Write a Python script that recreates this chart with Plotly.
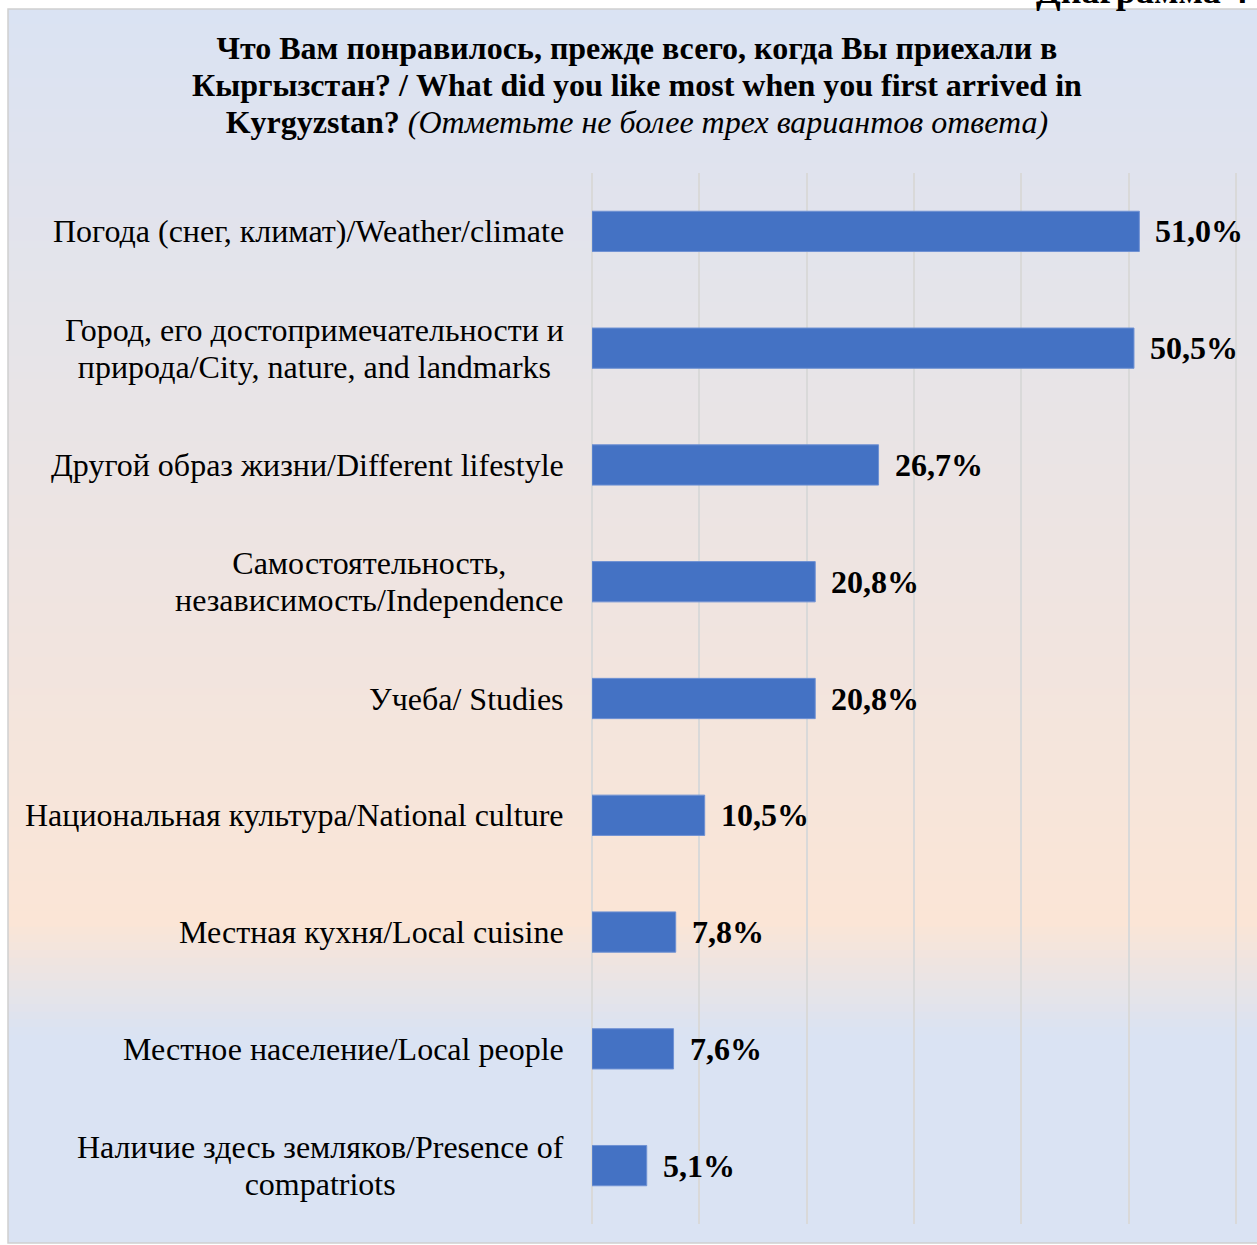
import plotly.graph_objects as go

categories = [
    "Погода (снег, климат)/Weather/climate",
    "Город, его достопримечательности и<br>природа/City, nature, and landmarks",
    "Другой образ жизни/Different lifestyle",
    "Самостоятельность,<br>независимость/Independence",
    "Учеба/ Studies",
    "Национальная культура/National culture",
    "Местная кухня/Local cuisine",
    "Местное население/Local people",
    "Наличие здесь земляков/Presence of<br>compatriots",
]
values = [51.0, 50.5, 26.7, 20.8, 20.8, 10.5, 7.8, 7.6, 5.1]
value_labels = [f"{v:.1f}".replace(".", ",") + "%" for v in values]

title_text = ("<b>Что Вам понравилось, прежде всего, когда Вы приехали в<br>"
              "Кыргызстан? / What did you like most when you first arrived in<br>"
              "Kyrgyzstan?</b> <i>(Отметьте не более трех вариантов ответа)</i>")
corner_text = "Диаграмма 4"

FW, FH = 1257, 1245
L, R, T, B = 592, 1237, 173, 1224
W, H = R - L, B - T
XMAX = 60.1
SERIF = "Times New Roman, Liberation Serif, serif"
BASE = 37 / 1.3          # controls line spacing (37px)
BIG = 32                 # visible glyph size


def sized(txt, size=BIG):
    return f'<span style="font-size:{size}px">{txt}</span>'


def px_x(p):
    return (p - L) / W


def px_y(p):
    return (B - p) / H


def hex2rgb(h):
    h = h.lstrip("#")
    return tuple(int(h[i:i + 2], 16) for i in (0, 2, 4))


stops = [(0.0, "#dae3f3"), (0.74, "#fbe5d6"), (0.83, "#dae3f3"), (1.0, "#dae3f3")]


def grad(t):
    for (a, ca), (b, cb) in zip(stops[:-1], stops[1:]):
        if a <= t <= b:
            f = 0 if b == a else (t - a) / (b - a)
            c1, c2 = hex2rgb(ca), hex2rgb(cb)
            return "rgb(%d,%d,%d)" % tuple(round(c1[i] + (c2[i] - c1[i]) * f) for i in range(3))
    return stops[-1][1]


shapes = []
box_top, box_bot, box_left, box_right = 9, 1243, 8, 1262
n = 160
for i in range(n):
    y0 = box_top + (box_bot - box_top) * i / n
    y1 = box_top + (box_bot - box_top) * (i + 1) / n + 0.8
    t = (i + 0.5) / n
    shapes.append(dict(type="rect", xref="paper", yref="paper", layer="below",
                       x0=px_x(box_left), x1=px_x(box_right),
                       y0=px_y(min(y1, box_bot)), y1=px_y(y0),
                       fillcolor=grad(t), line=dict(width=0)))
shapes.append(dict(type="rect", xref="paper", yref="paper", layer="below",
                   x0=px_x(box_left), x1=px_x(box_right + 5),
                   y0=px_y(box_bot), y1=px_y(box_top),
                   fillcolor="rgba(0,0,0,0)", line=dict(width=1.5, color="#d0d0d0")))

fig = go.Figure()
fig.add_trace(go.Bar(
    x=values, y=list(range(len(categories))), orientation="h",
    marker=dict(color="#4472c4", line=dict(color="#6f91d3", width=1)),
    width=0.345, hoverinfo="skip",
))

annotations = []
for i, (c, v, lab) in enumerate(zip(categories, values, value_labels)):
    annotations.append(dict(
        x=0, xref="paper", y=i, yref="y", xanchor="right", yanchor="middle",
        xshift=-26, text=sized(c), showarrow=False, align="center",
        font=dict(family=SERIF, size=BASE, color="black")))
    annotations.append(dict(
        x=v, xref="x", y=i, yref="y", xanchor="left", yanchor="middle",
        xshift=14, text="<b>" + lab + "</b>", showarrow=False,
        font=dict(family=SERIF, size=BIG, color="black")))

annotations.append(dict(
    x=px_x(637), xref="paper", y=px_y(85), yref="paper",
    xanchor="center", yanchor="middle", text=sized(title_text), showarrow=False,
    align="center", font=dict(family=SERIF, size=BASE, color="black")))
annotations.append(dict(
    x=px_x(1034), xref="paper", y=px_y(13), yref="paper",
    xanchor="left", yanchor="bottom", text="<b>" + corner_text + "</b>", showarrow=False,
    font=dict(family=SERIF, size=36, color="black")))

fig.update_layout(
    width=FW, height=FH,
    margin=dict(l=L, r=FW - R, t=T, b=FH - B, pad=0),
    paper_bgcolor="white", plot_bgcolor="rgba(0,0,0,0)",
    showlegend=False, shapes=shapes, annotations=annotations,
    xaxis=dict(range=[0, XMAX], dtick=10, tick0=0, showgrid=True,
               gridcolor="#d9d9d9", gridwidth=2, zeroline=True,
               zerolinecolor="#d9d9d9", zerolinewidth=2,
               showticklabels=False, ticks="", showline=False, fixedrange=True),
    yaxis=dict(range=[len(categories) - 0.5, -0.5], showticklabels=False,
               showgrid=False, zeroline=False, ticks="", showline=False,
               fixedrange=True),
)

fig.write_html(
    "out.html",
    config={"displayModeBar": False},
    post_script="document.body.style.margin='0px';document.body.style.overflow='hidden';",
)
